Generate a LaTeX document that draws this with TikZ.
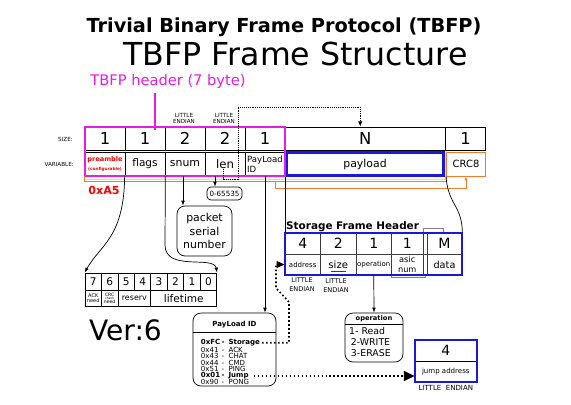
\documentclass[tikz,border=0pt]{standalone}
\usepackage{fontspec}
\setmainfont{DejaVu Sans}
\usetikzlibrary{arrows.meta,calc,positioning}

\definecolor{hdrmag}{RGB}{228,30,228}
\definecolor{crcorange}{RGB}{240,125,45}
\definecolor{frmyellow}{RGB}{245,232,60}
\definecolor{stblue}{RGB}{25,25,215}
\definecolor{cellgray}{RGB}{60,60,60}

\newcommand{\fsz}[2]{\fontsize{#1}{#2}\selectfont}
\newcommand{\pidrow}[2]{\makebox[6.2mm][l]{#1}\makebox[2.1mm][l]{-}#2}

\tikzset{
  cellbox/.style 2 args={draw, line width=0.6pt, minimum width=#1, minimum height=#2, inner sep=0pt},
  tinytext/.style={font=\fsz{4.8pt}{5.2pt}, align=center, inner sep=0pt},
  linkarrow/.style={line width=0.6pt, -{Latex[length=1.5mm,width=1.1mm]}},
  dotlink/.style={line width=1.4pt, dotted},
  roundbox/.style={draw, rounded corners=2.4mm, line width=0.6pt},
  pidentry/.style={anchor=west, inner sep=0pt, font=\fsz{6pt}{6pt}}
}

\begin{document}
\begin{tikzpicture}[x=0.3mm, y=-0.3mm]
    \useasboundingbox (0,0) rectangle (571,404);
    \fill[white] (0,0) rectangle (571,404);

    % --- titles ---
    \node[font=\fsz{16.5pt}{18pt}\bfseries] (title) at (284,27) {Trivial Binary Frame Protocol (TBFP)};
    \node[font=\fsz{27pt}{30pt}] (subtitle) at (295.5,54) {TBFP Frame Structure};
    \node[text=hdrmag, font=\fsz{12.5pt}{14pt}] (hdrlbl) at (168,81.5) {TBFP header (7 byte)};

    % --- frame background (yellow band) ---
    \draw[frmyellow, line width=0.9pt, fill=yellow!15] (84.5,150.5) rectangle (446,179.5);

    % --- size row ---
    \node[cellbox={12mm}{6.9mm}, font=\fsz{14pt}{14pt}] (sPre) at (105,138.5) {1};
    \node[cellbox={12mm}{6.9mm}, font=\fsz{14pt}{14pt}] (sFlg) at (145,138.5) {1};
    \node[cellbox={12mm}{6.9mm}, font=\fsz{14pt}{14pt}] (sSnum) at (185,138.5) {2};
    \node[cellbox={12mm}{6.9mm}, font=\fsz{14pt}{14pt}] (sLen) at (225,138.5) {2};
    \node[cellbox={12mm}{6.9mm}, font=\fsz{14pt}{14pt}] (sPid) at (265,138.5) {1};
    \node[cellbox={48.15mm}{6.9mm}, font=\fsz{14pt}{14pt}] (sPay) at (365.25,138.5) {N};
    \node[cellbox={12mm}{6.9mm}, font=\fsz{14pt}{14pt}] (sCrc) at (465.5,138.5) {1};

    % --- variable row ---
    \node[cellbox={12mm}{7.2mm}, fill=white, text=red, align=center, font=\fsz{5.6pt}{6pt}\bfseries] (vPre) at (105,164)
        {preamble\\[1.5pt]{\fsz{3.6pt}{4pt}(configurable)}};
    \node[cellbox={12mm}{7.2mm}, fill=white, font=\fsz{9pt}{9pt}] (vFlg) at (145,164) {flags};
    \node[cellbox={12mm}{7.2mm}, fill=white, font=\fsz{9.3pt}{9pt}] (vSnum) at (185,164) {snum};
    \node[cellbox={12mm}{7.2mm}, fill=white, font=\fsz{10pt}{9pt}] (vLen) at (225,164) {len};
    \node[cellbox={12mm}{7.2mm}, fill=white, align=left, font=\fsz{7.3pt}{8.8pt}] (vPid) at (265,164) {PayLoad\\ID};
    \node[cellbox={47.1mm}{6.9mm}, fill=white, draw=stblue, line width=1.8pt, font=\fsz{9.3pt}{9pt}] (vPay) at (365,164) {payload};
    \node[cellbox={11.7mm}{7.2mm}, fill=white, draw=crcorange, line width=0.8pt, font=\fsz{8.5pt}{9pt}] (vCrc) at (466,164) {CRC8};

    % --- header outline ---
    \draw[hdrmag, line width=1.8pt] (sPre.north west) rectangle (vPid.south east);
    \draw[hdrmag, line width=0.9pt] ([xshift=-3.9mm]hdrlbl.south) -- ++(0,37.5);

    % --- CRC coverage ---
    \draw[crcorange, line width=0.8pt] (vPre.south west) -- ++(0,5) -| (vCrc.south west);
    \draw[crcorange, line width=0.8pt, -{Latex[length=1.2mm,width=1mm]}] ([xshift=3mm,yshift=-1.5mm]vPid.south) -- ++(0,7) -| (vCrc.south);

    % --- row labels ---
    \node[tinytext, anchor=east] (lblSize) at (73,139) {SIZE:};
    \node[tinytext, anchor=east] (lblVar) at (74,164) {VARIABLE:};
    \node[tinytext] (leSnum) at (184,118) {LITTLE\\ENDIAN};
    \node[tinytext] (leLen) at (224,118) {LITTLE\\ENDIAN};
    \node[text=red, font=\fsz{9.5pt}{10pt}\bfseries] (preVal) at (104,190) {0xA5};

    % --- len -> payload ---
    \draw[line width=0.6pt, densely dotted, -{Latex[length=1.6mm,width=1.3mm]}]
        ([xshift=-0.6mm,yshift=-1.5mm]vLen.center) |- (238,179) -- (238,107) -| ([xshift=-1.5mm]sPay.north);

    % --- snum / len details ---
    \node[roundbox, minimum width=16.5mm, minimum height=15mm, align=center, font=\fsz{9.3pt}{11.5pt}] (pktBox) at (204.5,231) {packet\\serial\\number};
    \draw[linkarrow] ([xshift=-0.6mm]vSnum.south) -- ([xshift=-0.6mm]vSnum.south |- pktBox.north);
    \node[draw, rounded corners=1.2mm, line width=0.6pt, minimum width=10.5mm, minimum height=3.9mm, inner sep=0pt, font=\fsz{6.1pt}{7pt}] (lenRange) at (224.5,193.5) {0-65535};
    \draw[linkarrow] ([xshift=-3mm]vLen.south) -- ([xshift=-3mm]vLen.south |- lenRange.north);

    % --- flags bits ---
    \foreach \b [count=\k from 0] in {7,6,5,4,3,2,1,0}
        \node[cellbox={4.94mm}{5.1mm}, font=\fsz{9pt}{9pt}] (bit\b) at ({93.23+16.46*\k},281.5) {\b};
    \node[cellbox={4.94mm}{4.95mm}, align=center, font=\fsz{4.3pt}{3.9pt}] (bAck) at (93.23,298.3) {ACK\\need};
    \node[cellbox={4.94mm}{4.95mm}, align=center, font=\fsz{3.9pt}{3.2pt}] (bCrc) at (109.69,298.3) {CRC\\{\fsz{2.6pt}{2.6pt}check}\\need};
    \node[cellbox={9.87mm}{4.95mm}, font=\fsz{6.8pt}{7pt}] (bRes) at (134.38,298.3) {reserv};
    \node[cellbox={19.76mm}{4.95mm}, font=\fsz{9pt}{9pt}] (bLife) at (183.77,298.3) {lifetime};
    \draw[linkarrow] (vFlg.south west) .. controls (124,238) and (100,245) .. (bit7.north west);
    \draw[linkarrow] (vFlg.south east) -- (165,245) .. controls (165,272) and (214,255) .. (bit0.north east);

    % --- storage frame header ---
    \node[font=\fsz{8.9pt}{10pt}\bfseries, anchor=south west, inner sep=0pt] (storTitle) at (286,231.5) {Storage Frame Header};
    \node[cellbox={10.65mm}{6.3mm}, draw=cellgray, font=\fsz{12pt}{12pt}] (stA) at (302.75,243.5) {4};
    \node[cellbox={10.65mm}{6.3mm}, draw=cellgray, font=\fsz{12pt}{12pt}] (stB) at (338.25,243.5) {2};
    \node[cellbox={10.65mm}{6.3mm}, draw=cellgray, font=\fsz{12pt}{12pt}] (stC) at (373.75,243.5) {1};
    \node[cellbox={9.45mm}{6.3mm}, draw=cellgray, font=\fsz{12pt}{12pt}] (stD) at (407.25,243.5) {1};
    \node[cellbox={10.5mm}{6.3mm}, draw=cellgray, font=\fsz{12pt}{12pt}] (stM) at (444.5,243.5) {M};
    \node[cellbox={10.65mm}{6.3mm}, draw=cellgray, font=\fsz{6pt}{6pt}] (sbA) at (302.75,264.5) {address};
    \node[cellbox={10.65mm}{6.3mm}, draw=cellgray, font=\fsz{8.6pt}{8pt}] (sbB) at (338.25,264.5) {size};
    \node[cellbox={10.65mm}{6.3mm}, draw=cellgray, font=\fsz{5.9pt}{6pt}] (sbC) at (373.75,264.5) {operation};
    \node[cellbox={9.45mm}{6.3mm}, draw=cellgray, align=center, font=\fsz{7pt}{8pt}] (sbD) at (407.25,264.5) {asic\\num};
    \node[cellbox={10.5mm}{6.3mm}, draw=cellgray, font=\fsz{8.3pt}{8pt}] (sbM) at (444.5,264.5) {data};
    \draw[cellgray, line width=0.6pt] (stD.south east) -- (stM.south west);
    \draw[gray, line width=0.5pt] (423,233) -- (423,228) -- (443,228) -- (443,233);
    \draw[gray, line width=0.5pt] (391.5,275) -- (391.5,277.5) -- (425,277.5) -- (425,275);
    \draw[cellgray, line width=0.4pt] (331,271) -- (346,271);
    \draw[stblue, line width=1.8pt] (stA.north west) rectangle (sbM.south east);
    \node[align=center, font=\fsz{5.6pt}{7.6pt}] (leAddr) at (302,284.5) {LITTLE\\ENDIAN};
    \node[align=center, font=\fsz{5.6pt}{7.6pt}] (leSize) at (336,285.5) {LITTLE\\ENDIAN};
    \draw[line width=0.6pt] (vPay.south west) -- (vPay.south west |- stA.north);
    \draw[line width=0.6pt] (vCrc.south west) .. controls (448,205) and (462,205) .. (stM.north east);

    % --- operation ---
    \node[roundbox, minimum width=17.4mm, minimum height=14.7mm] (opBox) at (374,337.5) {};
    \node[font=\fsz{5.7pt}{6pt}\bfseries] (opTitle) at (374,319) {operation};
    \draw[line width=0.6pt] ($(opBox.north west)+(0,12)$) -- ($(opBox.north east)+(0,12)$);
    \node[align=left, anchor=north west, inner sep=0pt, font=\fsz{8pt}{9.4pt}] (opList) at (349,327.3)
        {1- Read\\\hspace{1.5pt}2-WRITE\\\hspace{1.5pt}3-ERASE};
    \draw[linkarrow] (sbC.south) -- (opBox.north);

    % --- PayLoad ID ---
    \node[roundbox, minimum width=24.9mm, minimum height=21.9mm] (pidBox) at (234.5,349.5) {};
    \node[font=\fsz{6pt}{6pt}\bfseries] (pidTitle) at (234.5,325) {PayLoad ID};
    \draw[line width=0.6pt] ($(pidBox.north west)+(0,20)$) -- ($(pidBox.north east)+(0,20)$);
    \node[pidentry, font=\fsz{6pt}{6pt}\bfseries] (pidFC) at (200.7,342.7) {\pidrow{0xFC}{Storage}};
    \node[pidentry] (pid41) at (200.7,349.6) {\pidrow{0x41}{ACK}};
    \node[pidentry] (pid43) at (200.7,356) {\pidrow{0x43}{CHAT}};
    \node[pidentry] (pid44) at (200.7,362.5) {\pidrow{0x44}{CMD}};
    \node[pidentry] (pid51) at (200.7,369) {\pidrow{0x51}{PING}};
    \node[pidentry, font=\fsz{6pt}{6pt}\bfseries] (pid01) at (200.7,376) {\pidrow{0x01}{Jump}};
    \node[pidentry] (pid90) at (200.7,382) {\pidrow{0x90}{PONG}};
    \draw[linkarrow] (vPid.south) -- (vPid.south |- pidBox.north);

    % --- jump address ---
    \node[cellbox={18.5mm}{6.3mm}, font=\fsz{12pt}{12pt}] (jmpLen) at (445.8,350.5) {4};
    \node[cellbox={18.5mm}{6.2mm}, font=\fsz{6pt}{6pt}] (jmpAddr) at (445.8,371.3) {jump address};
    \draw[stblue, line width=1.8pt] (jmpLen.north west) rectangle (jmpAddr.south east);
    \node[font=\fsz{6pt}{6pt}] (jmpEnd) at (445.8,388) {LITTLE\ \ ENDIAN};

    % --- dotted links ---
    \draw[dotlink, -{Triangle[length=2.4mm,width=2mm]}] ([xshift=0.6mm]pidFC.east) -| (289,302) -- (276,288) |- (sbA.west);
    \draw[dotlink, -{Triangle[length=3.2mm,width=3mm]}] ([xshift=1.5mm]pid01.east) -- (pid01.east -| jmpAddr.west);

    % --- version ---
    \node[font=\fsz{24pt}{26pt}] (ver) at (125.5,330) {Ver:6};
\end{tikzpicture}
\end{document}
